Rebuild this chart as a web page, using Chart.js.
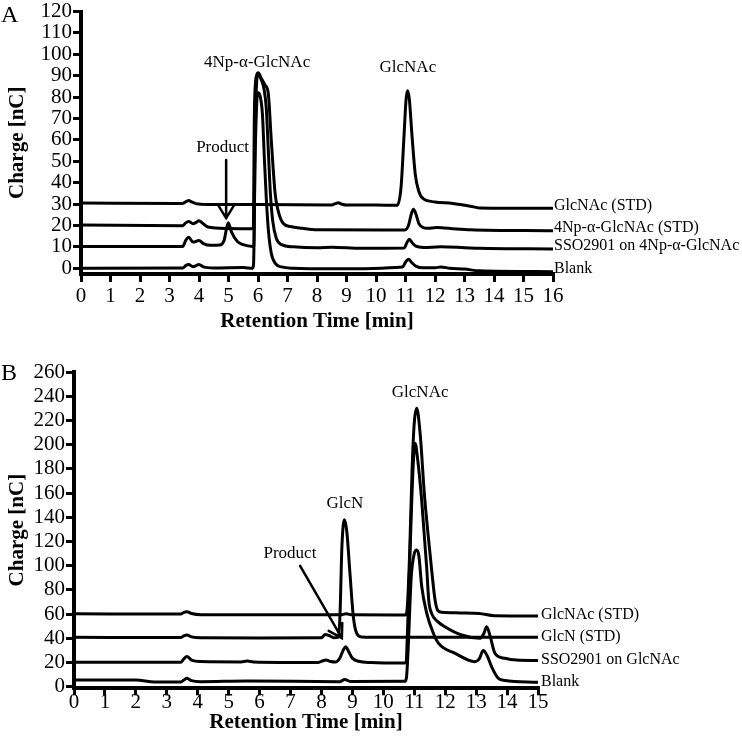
<!DOCTYPE html>
<html>
<head>
<meta charset="utf-8">
<script src="https://cdn.jsdelivr.net/npm/chart.js@4.4.1/dist/chart.umd.min.js"></script>
<style>
  body { margin: 0; background: #fff; }
  #wrap { position: relative; width: 742px; height: 743px; }
  canvas { position: absolute; left: 0; }
  .panel { position: absolute; left: 1px; font: 24px 'Liberation Serif', 'Times New Roman', serif; line-height: 24px; }
</style>
</head>
<body>
<div id="wrap">
  <canvas id="chartA" width="742" height="345" style="top:0"></canvas>
  <canvas id="chartB" width="742" height="398" style="top:345px"></canvas>
  <div class="panel" style="top:2px">A</div>
  <div class="panel" style="top:360px">B</div>
</div>
<script>
const serif = "'Liberation Serif', 'Times New Roman', serif";

// ---- Panel A: retention time (min) and charge (nC) per trace ----
const timeA_glcnacStd = [0, 3.45, 3.57, 3.65, 3.75, 3.9, 4.3, 6.0, 8.5, 8.62, 8.72, 8.85, 9.0, 10.0, 10.72, 10.85, 10.95, 11.02, 11.07, 11.13, 11.22, 11.33, 11.45, 11.6, 12.0, 12.6, 13.2, 13.5, 16];
const chargeA_glcnacStd = [30.5, 30.3, 31.2, 31.6, 31, 30.2, 29.8, 29.8, 29.6, 30.2, 30.6, 29.9, 29.5, 29.5, 29.4, 38, 62, 79, 83, 79, 62, 44, 36, 32.5, 31, 30.3, 29, 28.2, 28];

const timeA_npStd = [0, 3.45, 3.55, 3.65, 3.8, 3.9, 4.0, 4.1, 4.3, 5.0, 5.8, 5.84, 5.88, 5.95, 6.01, 6.1, 6.24, 6.35, 6.45, 6.58, 6.68, 6.85, 7.1, 7.5, 8.0, 10.98, 11.1, 11.2, 11.27, 11.35, 11.45, 11.6, 11.75, 12.05, 12.3, 12.6, 13.2, 16];
const chargeA_npStd = [20.2, 19.9, 21.2, 21.8, 20.8, 21.4, 22.2, 21.3, 19.3, 18.6, 18.5, 18.6, 75, 90, 91.4, 89, 85.6, 81.5, 60, 35, 27, 21, 19.5, 18.7, 18.0, 17.9, 20, 25.5, 27.6, 25.5, 21, 19, 18.7, 19, 18.8, 18.5, 18, 17.5];

const timeA_sso = [0, 3.45, 3.55, 3.65, 3.8, 4.0, 4.15, 4.4, 4.7, 4.85, 4.99, 5.1, 5.3, 5.5, 5.82, 5.86, 5.9, 5.96, 6.01, 6.1, 6.2, 6.28, 6.35, 6.42, 6.5, 6.62, 6.8, 7.2, 8.0, 8.5, 9.5, 10.95, 11.05, 11.13, 11.22, 11.35, 11.6, 12.2, 13.0, 13.5, 16];
const chargeA_sso = [10.1, 10.2, 13, 14.5, 12.2, 13, 11.5, 10.7, 10.8, 13, 21.3, 17, 12.5, 11, 10.2, 10.5, 60, 88, 91, 88.5, 84, 75, 55, 35, 22, 14, 11, 10, 9.6, 9.8, 9.3, 9.4, 12, 13.6, 12, 10.3, 9.7, 10, 9.6, 9.3, 9];

const timeA_blank = [0, 3.45, 3.55, 3.65, 3.8, 3.9, 4.0, 4.15, 4.5, 5.5, 5.82, 5.85, 5.9, 5.96, 6.0, 6.08, 6.15, 6.22, 6.28, 6.35, 6.45, 6.6, 6.8, 7.2, 8.5, 10.9, 11.0, 11.1, 11.2, 11.35, 11.6, 12.0, 12.2, 12.5, 13.0, 13.5, 16];
const chargeA_blank = [0, 0.1, 1.2, 1.7, 0.7, 1.2, 1.7, 0.6, 0.1, 0.3, 0, 2, 50, 78, 82, 80, 72, 50, 33, 18, 7, 2, 0.6, 0, -0.3, 0.6, 2.8, 4.2, 2.8, 1, 0.2, 0.2, 0.6, 0, -0.4, -1.2, -1.6];

const labelsA = ['GlcNAc (STD)', '4Np-\u03b1-GlcNAc (STD)', 'SSO2901 on 4Np-\u03b1-GlcNAc', 'Blank'];
const xTicksA = [0, 1, 2, 3, 4, 5, 6, 7, 8, 9, 10, 11, 12, 13, 14, 15, 16];
const yTicksA = [0, 10, 20, 30, 40, 50, 60, 70, 80, 90, 100, 110, 120];

// ---- Panel B ----
const timeB_glcnacStd = [0, 3.45, 3.55, 3.65, 3.8, 4.1, 6, 8.6, 8.8, 9.0, 10.7, 10.76, 10.85, 10.93, 11.0, 11.08, 11.19, 11.33, 11.45, 11.56, 11.67, 11.76, 11.9, 12.5, 13.1, 13.6, 15];
const chargeB_glcnacStd = [60.2, 60, 61.5, 62, 60.5, 59.5, 59.5, 59.4, 60.2, 59.4, 59.2, 62, 110, 180, 218, 230, 209, 158, 125, 97, 72, 63, 61.5, 61, 60.5, 58.6, 58.4];

const timeB_glcnStd = [0, 3.45, 3.55, 3.65, 3.8, 4.1, 6, 8.0, 8.12, 8.25, 8.4, 8.55, 8.6, 8.66, 8.74, 8.82, 8.92, 9.03, 9.14, 9.3, 9.6, 15];
const chargeB_glcnStd = [40.8, 40.6, 42, 42.8, 41.2, 40.5, 40.3, 40.5, 43.2, 42.3, 40.5, 41, 60, 115, 138, 128, 94, 58, 44, 41, 40.8, 40.8];

const timeB_sso = [0, 3.45, 3.55, 3.65, 3.8, 4.1, 5.4, 5.6, 5.8, 7.9, 8.05, 8.15, 8.3, 8.45, 8.6, 8.7, 8.78, 8.88, 9.0, 9.2, 9.6, 10.68, 10.73, 10.8, 10.9, 10.98, 11.03, 11.1, 11.24, 11.4, 11.47, 11.56, 11.75, 11.99, 12.53, 13.13, 13.25, 13.34, 13.45, 13.61, 13.93, 14.3, 15];
const chargeB_sso = [20.3, 20.2, 23, 25, 22, 20.8, 20.5, 21.2, 20.5, 20, 21.5, 22, 20.8, 20.4, 24, 30, 33, 29, 23.5, 21, 20, 19.5, 20, 60, 140, 190, 201, 190, 154, 99, 71, 60.6, 54, 49.6, 42.7, 40, 44, 49.6, 42, 27.6, 23.5, 22, 21.6];

const timeB_blank = [0, 2.0, 2.6, 3.45, 3.55, 3.65, 3.8, 4.1, 5.6, 8.6, 8.75, 8.95, 10.7, 10.75, 10.8, 10.9, 11.0, 11.08, 11.15, 11.24, 11.4, 11.62, 11.78, 12.32, 12.96, 13.1, 13.23, 13.35, 13.5, 13.72, 13.93, 15];
const chargeB_blank = [5.5, 5.5, 4, 4, 5.5, 7, 5, 4.2, 4.8, 4.2, 6, 4.3, 4.5, 8, 30, 90, 110, 113, 108, 83, 61, 44, 36, 27.6, 20.7, 23, 30, 26, 16.5, 6.9, 5.2, 3.6];

const labelsB = ['GlcNAc (STD)', 'GlcN (STD)', 'SSO2901 on GlcNAc', 'Blank'];
const xTicksB = [0, 1, 2, 3, 4, 5, 6, 7, 8, 9, 10, 11, 12, 13, 14, 15];
const yTicksB = [0, 20, 40, 60, 80, 100, 120, 140, 160, 180, 200, 220, 240, 260];

// Draws trace names at line ends, peak names and arrows
const traceNotes = {
    id: 'traceNotes',
    afterDatasetsDraw(chart, args, opts) {
        const { ctx, scales: { x, y } } = chart;
        ctx.save();
        ctx.fillStyle = '#000';
        ctx.strokeStyle = '#000';

        ctx.font = '16px ' + serif;
        ctx.textAlign = 'left';
        ctx.textBaseline = 'middle';
        chart.data.datasets.forEach(ds => {
            const last = ds.data[ds.data.length - 1];
            ctx.fillText(ds.label, x.getPixelForValue(last.x) + opts.labelDx, y.getPixelForValue(last.y) + opts.labelDy);
        });

        ctx.font = '17px ' + serif;
        ctx.textAlign = 'center';
        opts.notes.forEach(n => ctx.fillText(n.text, x.getPixelForValue(n.t), y.getPixelForValue(n.v)));

        ctx.lineWidth = 2.5;
        ctx.lineCap = 'round';
        opts.arrows.forEach(a => {
            const x1 = x.getPixelForValue(a.from[0]), y1 = y.getPixelForValue(a.from[1]);
            const x2 = x.getPixelForValue(a.to[0]), y2 = y.getPixelForValue(a.to[1]);
            const ang = Math.atan2(y2 - y1, x2 - x1);
            ctx.beginPath();
            ctx.moveTo(x1, y1);
            ctx.lineTo(x2, y2);
            ctx.moveTo(x2 - 15 * Math.cos(ang - 0.55), y2 - 15 * Math.sin(ang - 0.55));
            ctx.lineTo(x2, y2);
            ctx.lineTo(x2 - 15 * Math.cos(ang + 0.55), y2 - 15 * Math.sin(ang + 0.55));
            ctx.stroke();
        });
        ctx.restore();
    }
};

function toPoints(times, values) {
    return times.map((t, i) => ({ x: t, y: values[i] }));
}

function trace(label, times, values) {
    return {
        label: label,
        data: toPoints(times, values),
        borderColor: '#000',
        borderWidth: 3,
        pointRadius: 0,
        fill: false,
        cubicInterpolationMode: 'monotone'
    };
}

function makeChart(id, p) {
    new Chart(document.getElementById(id), {
        type: 'line',
        data: { datasets: p.datasets },
        options: {
            responsive: false,
            animation: false,
            layout: { padding: { left: 0, right: p.padRight, top: p.padTop, bottom: 0 } },
            plugins: {
                legend: { display: false },
                tooltip: { enabled: false },
                traceNotes: p.notes
            },
            scales: {
                x: {
                    type: 'linear',
                    min: p.xTicks[0],
                    max: p.xTicks[p.xTicks.length - 1],
                    afterBuildTicks: s => { s.ticks = p.xTicks.map(v => ({ value: v })); },
                    afterFit: s => { s.height = p.xHeight; },
                    ticks: { color: '#000', font: { family: serif, size: 21, lineHeight: 1 }, padding: p.xTickPad, maxRotation: 0, autoSkip: false },
                    grid: { drawOnChartArea: false, color: '#000', lineWidth: 3, tickLength: p.xTickLen },
                    border: { color: '#000', width: 4 },
                    title: { display: true, text: 'Retention Time [min]', color: '#000', font: { family: serif, size: 21, weight: 'bold', lineHeight: 1.2 }, padding: { top: 0, bottom: p.xTitlePad } }
                },
                y: {
                    min: p.yMin,
                    max: p.yTicks[p.yTicks.length - 1],
                    afterBuildTicks: s => { s.ticks = p.yTicks.map(v => ({ value: v })); },
                    afterFit: s => { s.width = p.yWidth; },
                    ticks: { color: '#000', font: { family: serif, size: 21, lineHeight: 1 }, padding: 1, autoSkip: false },
                    grid: { drawOnChartArea: false, color: '#000', lineWidth: 3, tickLength: 8 },
                    border: { color: '#000', width: 4 },
                    title: { display: true, text: 'Charge [nC]', color: '#000', font: { family: serif, size: 21, weight: 'bold', lineHeight: 1.2 }, padding: { top: 5, bottom: 0 } }
                }
            }
        },
        plugins: [traceNotes]
    });
}

makeChart('chartA', {
    datasets: [
        trace(labelsA[0], timeA_glcnacStd, chargeA_glcnacStd),
        trace(labelsA[1], timeA_npStd, chargeA_npStd),
        trace(labelsA[2], timeA_sso, chargeA_sso),
        trace(labelsA[3], timeA_blank, chargeA_blank)
    ],
    xTicks: xTicksA, yTicks: yTicksA, yMin: -2.7,
    padTop: 11, padRight: 189, yWidth: 81, xHeight: 71,
    xTickLen: 8, xTickPad: 4, xTitlePad: 11,
    notes: {
        labelDx: 1, labelDy: -3,
        notes: [
            { text: '4Np-\u03b1-GlcNAc', t: 5.97, v: 96 },
            { text: 'GlcNAc', t: 11.08, v: 93.6 },
            { text: 'Product', t: 4.8, v: 56.5 }
        ],
        arrows: [{ from: [4.92, 50.6], to: [4.92, 23.4] }]
    }
});

makeChart('chartB', {
    datasets: [
        trace(labelsB[0], timeB_glcnacStd, chargeB_glcnacStd),
        trace(labelsB[1], timeB_glcnStd, chargeB_glcnStd),
        trace(labelsB[2], timeB_sso, chargeB_sso),
        trace(labelsB[3], timeB_blank, chargeB_blank)
    ],
    xTicks: xTicksB, yTicks: yTicksB, yMin: -1.3,
    padTop: 27, padRight: 204, yWidth: 74, xHeight: 54.7,
    xTickLen: 7, xTickPad: -3, xTitlePad: 8,
    notes: {
        labelDx: 3, labelDy: -1,
        notes: [
            { text: 'GlcNAc', t: 11.19, v: 242.7 },
            { text: 'GlcN', t: 8.76, v: 151 },
            { text: 'Product', t: 6.98, v: 110 }
        ],
        arrows: [{ from: [7.31, 99.8], to: [8.66, 40.2] }]
    }
});
</script>
</body>
</html>
